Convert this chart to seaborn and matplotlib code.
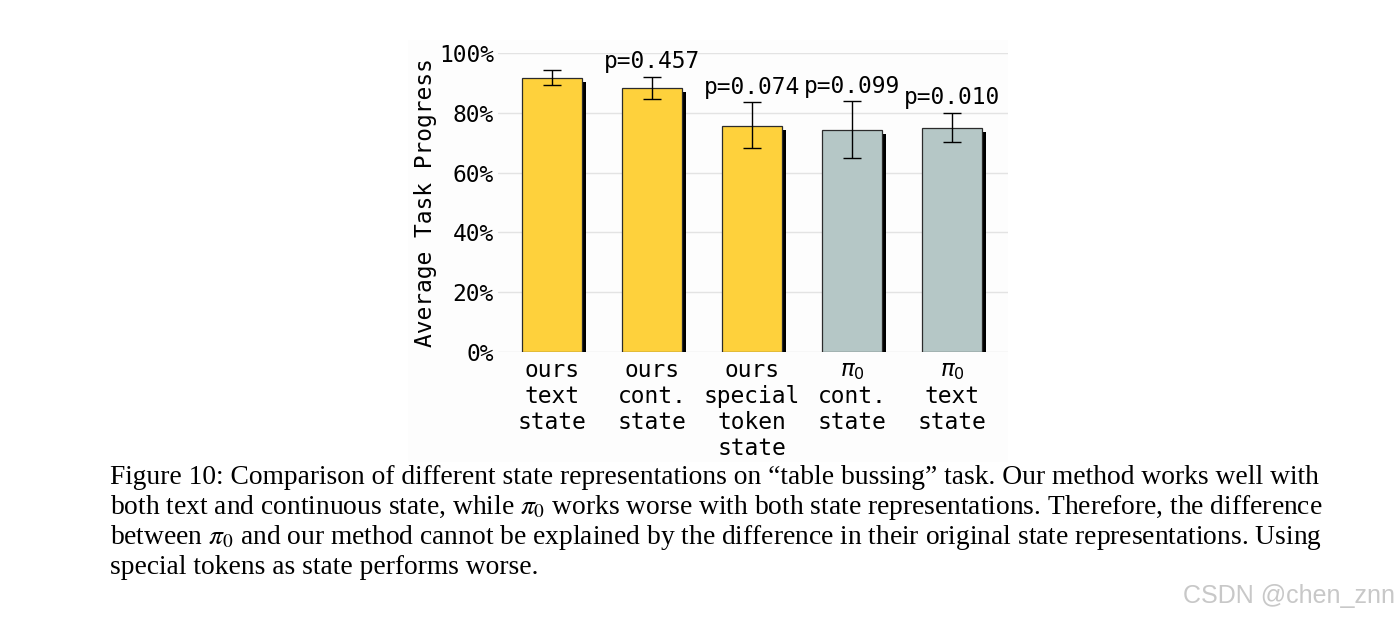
import numpy as np
import matplotlib
matplotlib.use("Agg")
import matplotlib.pyplot as plt
import matplotlib.patheffects as pe
from matplotlib.patches import Rectangle
import seaborn as sns

# data
labels = ["ours\ntext\nstate", "ours\ncont.\nstate", "ours\nspecial\ntoken\nstate",
          "$\\pi_0$\ncont.\nstate", "$\\pi_0$\ntext\nstate"]
progress = [91.6, 88.3, 75.7, 74.3, 75.0]
err_low = [89.3, 84.6, 68.2, 65.0, 70.1]
err_high = [94.2, 92.1, 83.6, 83.8, 80.1]
p_values = ["", "p=0.457", "p=0.074", "p=0.099", "p=0.010"]
bar_colors = ["#fed13c", "#fed13c", "#fed13c", "#b5c7c6", "#b5c7c6"]

caption = [
    "Figure 10: Comparison of different state representations on \u201ctable bussing\u201d task. Our method works well with",
    "both text and continuous state, while $\\pi_0$ works worse with both state representations. Therefore, the difference",
    "between $\\pi_0$ and our method cannot be explained by the difference in their original state representations. Using",
    "special tokens as state performs worse.",
]

sns.set_theme(style="whitegrid")
plt.rcParams["font.family"] = ["DejaVu Sans Mono", "DejaVu Sans"]
fs = 16.5

fig = plt.figure(figsize=(14, 6.2), dpi=100)
fig.patch.set_facecolor("white")
# faint backdrop of the pasted chart
fig.patches.append(Rectangle((408 / 1400, 1 - 462 / 620), 600 / 1400, 422 / 620,
                             transform=fig.transFigure, facecolor="#fdfdfd",
                             edgecolor="none", zorder=-5))

ax = fig.add_axes([498 / 1400, 1 - 352 / 620, 510 / 1400, 299 / 620])
ax.set_facecolor("none")

sns.barplot(x=labels, y=progress, hue=labels, palette=bar_colors, legend=False,
            saturation=1, width=0.6, edgecolor="#2b2b2b", linewidth=0.9, ax=ax, zorder=3)
for patch in ax.patches:
    patch.set_path_effects([pe.SimplePatchShadow(offset=(3, -3), shadow_rgbFace="black", alpha=1.0),
                            pe.Normal()])

x = np.arange(len(labels))
yerr = [np.array(progress) - np.array(err_low), np.array(err_high) - np.array(progress)]
ax.errorbar(x, progress, yerr=yerr, fmt="none", ecolor="black", elinewidth=1.0,
            capsize=6.5, capthick=1.0, zorder=4)

for xi, top, txt in zip(x, err_high, p_values):
    if txt:
        ax.annotate(txt, (xi, top), xytext=(0, 2.5), textcoords="offset points",
                    ha="center", va="bottom", fontsize=fs, color="black")

ax.set_ylim(0, 100)
ax.set_xlim(-0.54, 4.56)
ax.set_yticks([0, 20, 40, 60, 80, 100])
ax.set_yticklabels([f"{v}%" for v in [0, 20, 40, 60, 80, 100]], fontsize=fs)
ax.set_xticks(x)
ax.set_xticklabels(labels, fontsize=fs, linespacing=1.17)
ax.tick_params(axis="y", length=0, pad=3, colors="black")
ax.tick_params(axis="x", length=0, pad=5, colors="black")
ax.grid(axis="y", color="#e3e3e3", linewidth=1.0)
ax.grid(axis="x", visible=False)
for s in ax.spines.values():
    s.set_visible(False)
ax.set_ylabel("Average Task Progress", fontsize=fs, color="black", labelpad=1)

# caption underneath
for i, line in enumerate(caption):
    fig.text(110 / 1400, 1 - (477 + 30 * i) / 620, line, ha="left", va="center",
             fontsize=19.8, family="Liberation Serif", math_fontfamily="stix", color="black")

fig.text(1395 / 1400, 1 - 596 / 620, "CSDN @chen_znn", ha="right", va="center",
         fontsize=18, family="Liberation Sans", color="#c8c8c8")

fig.savefig("out.png", dpi=100)
